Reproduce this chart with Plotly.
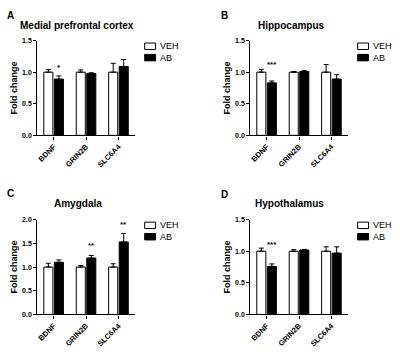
import plotly.graph_objects as go

genes = ["BDNF", "GRIN2B", "SLC6A4"]
panel_letters = ["A", "B", "C", "D"]
panel_titles = ["Medial prefrontal cortex", "Hippocampus", "Amygdala", "Hypothalamus"]

veh_vals = [[1.00, 1.00, 1.00], [1.00, 1.00, 1.00], [1.00, 1.00, 1.00], [1.00, 1.00, 1.00]]
veh_err = [[0.04, 0.035, 0.14], [0.045, 0.01, 0.12], [0.08, 0.035, 0.07], [0.05, 0.025, 0.07]]
ab_vals = [[0.89, 0.98, 1.09], [0.83, 1.01, 0.89], [1.10, 1.19, 1.53], [0.76, 1.02, 0.97]]
ab_err = [[0.05, 0.01, 0.11], [0.03, 0.015, 0.07], [0.05, 0.055, 0.18], [0.04, 0.01, 0.10]]

# significance marks: (panel index, gene, label, y value)
sig_panel = [0, 1, 2, 2, 3]
sig_gene = ["BDNF", "BDNF", "GRIN2B", "SLC6A4", "BDNF"]
sig_text = ["*", "***", "**", "**", "***"]
sig_y = [1.11, 1.16, 1.50, 1.93, 1.14]

y_max = [1.5, 1.5, 2.0, 1.5]
y_ticks = [[0, 0.5, 1.0, 1.5], [0, 0.5, 1.0, 1.5], [0, 0.5, 1.0, 1.5, 2.0], [0, 0.5, 1.0, 1.5]]

FONT = "Liberation Sans, Arial, sans-serif"
W, H = 400, 355

# layout geometry (pixels)
x_dom_px = [(36.5, 134.0), (250.0, 347.5), (36.5, 134.0), (250.0, 347.5)]
y_dom_px = [(37.3, 134.0), (37.3, 134.0), (220.0, 316.7), (220.0, 316.7)]
title_pos = [(76, 22), (291, 22), (77.5, 203.5), (289, 203.5)]
letter_pos = [(10, 11.5), (224, 11.5), (9.5, 193), (224, 194)]

fig = go.Figure()
layout = dict(
    width=W, height=H,
    margin=dict(l=0, r=0, t=0, b=0),
    paper_bgcolor="white", plot_bgcolor="white",
    showlegend=False,
    barmode="group", bargap=0.35, bargroupgap=0.14,
    font=dict(family=FONT, color="black"),
)
annotations = []
shapes = []

for i in range(4):
    sfx = "" if i == 0 else str(i + 1)
    xa, ya = "x" + sfx, "y" + sfx
    fig.add_trace(go.Bar(
        x=genes, y=veh_vals[i], name="VEH", xaxis=xa, yaxis=ya,
        marker=dict(color="white", line=dict(color="black", width=1)),
        error_y=dict(type="data", array=veh_err[i], arrayminus=[0] * 3, symmetric=False,
                     color="black", thickness=1, width=2.5),
    ))
    fig.add_trace(go.Bar(
        x=genes, y=ab_vals[i], name="AB", xaxis=xa, yaxis=ya,
        marker=dict(color="black", line=dict(color="black", width=1)),
        error_y=dict(type="data", array=ab_err[i], arrayminus=[0] * 3, symmetric=False,
                     color="black", thickness=1, width=2.5),
    ))
    x0, x1 = x_dom_px[i]
    y0, y1 = y_dom_px[i]
    layout["xaxis" + sfx] = dict(
        domain=[x0 / W, x1 / W], anchor=ya,
        showline=True, linecolor="black", linewidth=1.3,
        ticks="outside", ticklen=3, tickwidth=1, tickcolor="black",
        tickangle=-45, tickfont=dict(size=7.5, family=FONT, weight="bold"),
        showgrid=False, zeroline=False, fixedrange=True,
    )
    layout["yaxis" + sfx] = dict(
        domain=[1 - y1 / H, 1 - y0 / H], anchor=xa,
        range=[0, y_max[i]], tickvals=y_ticks[i], tickformat=".1f",
        showline=True, linecolor="black", linewidth=1.3,
        ticks="outside", ticklen=3, tickwidth=1, tickcolor="black",
        tickfont=dict(size=7, family=FONT, weight="bold"),
        showgrid=False, zeroline=False, fixedrange=True,
        title=dict(text="Fold change", font=dict(size=9, family=FONT, weight="bold"), standoff=2),
    )
    # title and panel letter
    tx, ty = title_pos[i]
    annotations.append(dict(x=tx / W, y=1 - ty / H, xref="paper", yref="paper",
                            text=panel_titles[i], showarrow=False,
                            font=dict(size=10, family=FONT, weight="bold"),
                            xanchor="center", yanchor="middle"))
    lx, ly = letter_pos[i]
    annotations.append(dict(x=lx / W, y=1 - ly / H, xref="paper", yref="paper",
                            text=panel_letters[i], showarrow=False,
                            font=dict(size=10, family=FONT, weight="bold"),
                            xanchor="center", yanchor="middle"))
    # legend (drawn per panel)
    for name, fill, yc in (("VEH", "white", 0.94), ("AB", "black", 0.82)):
        shapes.append(dict(type="rect", xref=xa + " domain", yref=ya + " domain",
                           x0=1.103, x1=1.215, y0=yc - 0.034, y1=yc + 0.034,
                           fillcolor=fill, line=dict(color="black", width=1)))
        annotations.append(dict(x=1.245, y=yc, xref=xa + " domain", yref=ya + " domain",
                                text=name, showarrow=False, xanchor="left", yanchor="middle",
                                font=dict(size=9, family=FONT)))

for p, g, t, yv in zip(sig_panel, sig_gene, sig_text, sig_y):
    sfx = "" if p == 0 else str(p + 1)
    annotations.append(dict(x=g, y=yv, xref="x" + sfx, yref="y" + sfx, text=t,
                            showarrow=False, xshift=5.3, yshift=-2,
                            xanchor="center", yanchor="middle",
                            font=dict(size=8, family=FONT, weight="bold")))

layout["annotations"] = annotations
layout["shapes"] = shapes
fig.update_layout(**layout)
fig.write_html("out.html", config={"displayModeBar": False},
               post_script="document.body.style.margin='0';")
